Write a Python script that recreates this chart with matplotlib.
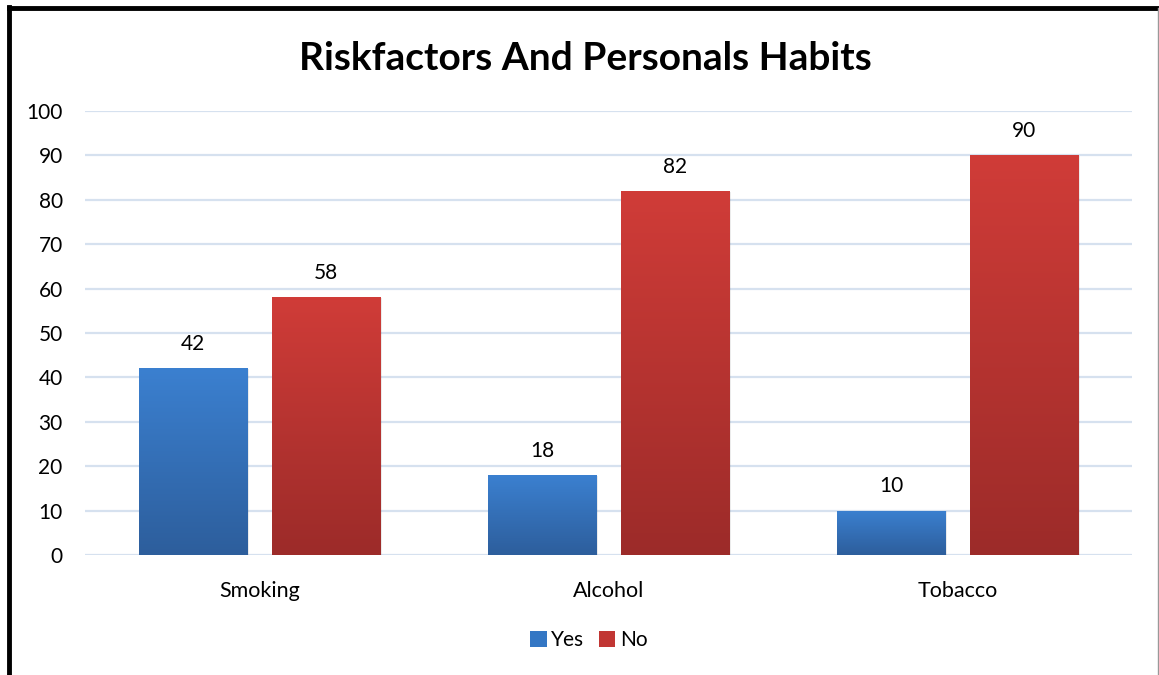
import matplotlib
matplotlib.use("Agg")
import matplotlib.pyplot as plt
import numpy as np
from matplotlib.colors import LinearSegmentedColormap
from matplotlib.patches import Rectangle
from matplotlib.lines import Line2D

categories = ["Smoking", "Alcohol", "Tobacco"]
yes_values = [42, 18, 10]
no_values = [58, 82, 90]
series_names = ["Yes", "No"]
yticks = [0, 10, 20, 30, 40, 50, 60, 70, 80, 90, 100]

plt.rcParams['font.family'] = ['Lato', 'DejaVu Sans']

fig = plt.figure(figsize=(11.59, 6.75), dpi=100)
ax = fig.add_axes([0.0733, 0.1778, 0.9034, 0.6578])

blue_cmap = LinearSegmentedColormap.from_list("b", ["#2d5e9c", "#3b80d0"])
red_cmap = LinearSegmentedColormap.from_list("r", ["#9c2b29", "#d03c38"])

width = 0.31
offset = 0.19
x = np.arange(len(categories))

def grad_bar(ax, xc, h, cmap):
    x0 = xc - width / 2
    # shadow
    ax.add_patch(Rectangle((x0 + 0.006, -0.4), width, h + 0.2, facecolor="#000000",
                           alpha=0.08, edgecolor="none", zorder=2))
    bar = ax.bar(xc, h, width=width, color="none", edgecolor="none", zorder=3)[0]
    grad = np.linspace(0, 1, 256).reshape(-1, 1)
    im = ax.imshow(grad, cmap=cmap, aspect="auto", origin="lower",
                   extent=[x0, x0 + width, 0, h], zorder=3, vmin=0, vmax=1)
    im.set_clip_path(bar)
    ax.text(xc, h + 3.2, f"{h}", ha="center", va="bottom", fontsize=15, color="#000000", zorder=4)

for i in range(len(categories)):
    grad_bar(ax, x[i] - offset, yes_values[i], blue_cmap)
    grad_bar(ax, x[i] + offset, no_values[i], red_cmap)

ax.set_xlim(-0.5, 2.5)
ax.set_ylim(0, 100)
ax.set_yticks(yticks)
ax.set_yticklabels([str(t) for t in yticks], fontsize=15)
ax.set_xticks(x)
ax.set_xticklabels(categories, fontsize=15.5)
ax.tick_params(axis="both", length=0)
ax.tick_params(axis="y", pad=16)
ax.tick_params(axis="x", pad=19)
ax.grid(axis="y", color="#d6e1ef", linewidth=1.6, zorder=0)
ax.set_axisbelow(True)
for s in ax.spines.values():
    s.set_visible(False)

fig.text(0.505, 0.914, "Riskfactors And Personals Habits", ha="center", va="center",
         fontsize=28, fontweight="bold")

handles = [Rectangle((0, 0), 1, 1, facecolor="#3477c4"), Rectangle((0, 0), 1, 1, facecolor="#c13633")]
fig.legend(handles, series_names, loc="center", bbox_to_anchor=(0.508, 0.052), ncol=2,
           frameon=False, fontsize=15, handlelength=0.8, handleheight=0.8,
           handletextpad=0.2, columnspacing=0.7)

# outer border
fig.add_artist(Line2D([0.0078, 0.0078], [0.0, 0.990], color="black", linewidth=3.5,
                      transform=fig.transFigure))
fig.add_artist(Line2D([0.0078, 1.0], [0.988, 0.988], color="black", linewidth=3.5,
                      transform=fig.transFigure))
fig.add_artist(Line2D([0.9995, 0.9995], [0.0, 0.988], color="#999999", linewidth=1,
                      transform=fig.transFigure))

fig.savefig("out.png", dpi=100)
